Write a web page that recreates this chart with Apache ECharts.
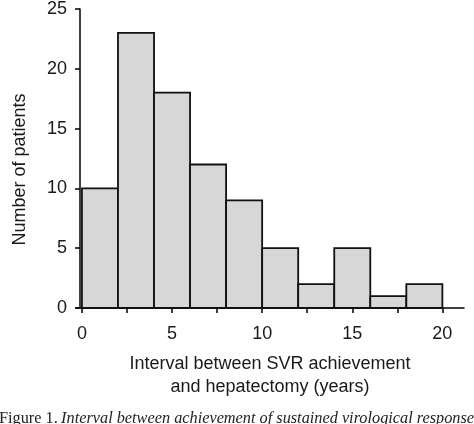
<!DOCTYPE html>
<html>
<head>
<meta charset="utf-8">
<script src="https://cdn.jsdelivr.net/npm/echarts@6/dist/echarts.min.js"></script>
<style>
  html, body { margin: 0; padding: 0; background: #fff; }
  #main { width: 474px; height: 424px; }
</style>
</head>
<body>
<div id="main"></div>
<script>
// histogram bins (years) and counts
var binStart = [0, 2, 4, 6, 8, 10, 12, 14, 16, 18];
var binWidth = 2;
var counts = [10, 23, 18, 12, 9, 5, 2, 5, 1, 2];

var xLabels = [0, 5, 10, 15, 20];
var xTicks = [0, 2.5, 5, 7.5, 10, 12.5, 15, 17.5, 20];

var font = 'Liberation Sans, Arial, sans-serif';

var myChart = echarts.init(document.getElementById('main'));

var histData = binStart.map(function (s, i) {
    return [s, s + binWidth, counts[i]];
});

var option = {
    backgroundColor: '#fff',
    animation: false,
    grid: { left: 76, right: 10, top: 7, bottom: 116 },
    xAxis: {
        type: 'value',
        min: -0.33,
        max: 21.2,
        name: 'Interval between SVR achievement\nand hepatectomy (years)',
        nameLocation: 'middle',
        nameGap: 45,
        nameTextStyle: { fontFamily: font, fontSize: 18, color: '#1a1a1a', lineHeight: 23 },
        axisLine: { lineStyle: { color: '#000', width: 1.5 } },
        axisTick: { customValues: xTicks, length: 5, lineStyle: { color: '#000', width: 1.5 } },
        axisLabel: { customValues: xLabels, margin: 17, fontFamily: font, fontSize: 18, color: '#1a1a1a' },
        splitLine: { show: false }
    },
    yAxis: {
        type: 'value',
        min: 0,
        max: 25,
        interval: 5,
        offset: -4,
        name: 'Number of patients',
        nameLocation: 'middle',
        nameGap: 51,
        nameTextStyle: { fontFamily: font, fontSize: 18, color: '#1a1a1a', padding: [0, 22, 0, 0] },
        axisLine: { show: true, onZero: false, lineStyle: { color: '#000', width: 1.5 } },
        axisTick: { show: true, length: 5, lineStyle: { color: '#000', width: 1.5 } },
        axisLabel: { margin: 13, fontFamily: font, fontSize: 18, color: '#1a1a1a' },
        splitLine: { show: false }
    },
    graphic: [{
        type: 'text',
        left: -1,
        top: 411,
        style: {
            text: '{a|Figure 1.} {b|Interval between achievement of sustained virological response}',
            rich: {
                a: { fontFamily: 'Liberation Serif, Times New Roman, serif', fontSize: 16.3, fill: '#222' },
                b: { fontFamily: 'Liberation Serif, Times New Roman, serif', fontSize: 16.3, fontStyle: 'italic', fill: '#222' }
            }
        }
    }],
    series: [{
        type: 'custom',
        data: histData,
        encode: { x: [0, 1], y: 2 },
        renderItem: function (params, api) {
            var p0 = api.coord([api.value(0), api.value(2)]);
            var p1 = api.coord([api.value(1), 0]);
            return {
                type: 'rect',
                shape: { x: p0[0], y: p0[1], width: p1[0] - p0[0], height: p1[1] - p0[1] },
                style: { fill: '#d7d7d7', stroke: '#111', lineWidth: 1.8 }
            };
        }
    }]
};

myChart.setOption(option);
</script>
</body>
</html>
